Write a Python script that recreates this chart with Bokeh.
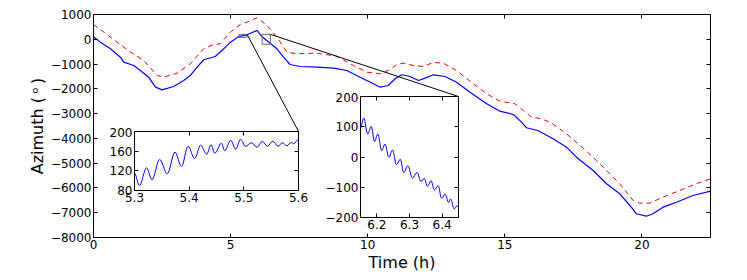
from bokeh.plotting import figure
from bokeh.layouts import column
from bokeh.models import Range1d, LinearAxis, FixedTicker, CustomJSTickFormatter
from bokeh.embed import file_html
from bokeh.resources import INLINE

FONT = "DejaVu Sans"

# ---------------- data ----------------
t_meas = [0.0, 0.25, 0.62, 0.98, 1.1, 1.47, 1.71, 2.01, 2.26, 2.5, 2.92, 3.29, 3.53, 3.78,
          4.02, 4.44, 4.75, 4.99, 5.3, 5.6, 5.96, 6.15, 6.45, 6.69, 6.93, 7.17, 7.54, 8.15,
          8.75, 9.24, 9.72, 10.21, 10.45, 10.75, 11.0, 11.24, 11.54, 11.85, 12.09, 12.39,
          12.82, 13.24, 13.73, 14.34, 14.82, 15.31, 15.61, 15.79, 16.2, 16.76, 17.25, 17.61,
          18.22, 18.71, 19.19, 19.56, 19.8, 20.16, 20.4, 20.77, 21.26, 21.86, 22.5]
az_meas = [100, -116, -385, -722, -924, -1057, -1259, -1530, -1933, -2040, -1905, -1663,
           -1461, -1126, -827, -694, -385, -116, 110, 180, 355, 100, -170, -385, -722, -1017,
           -1098, -1126, -1166, -1259, -1530, -1796, -1933, -1865, -1594, -1433, -1501, -1663,
           -1570, -1433, -1501, -1731, -2135, -2603, -2902, -3035, -3346, -3572, -3681, -4016,
           -4355, -4758, -5295, -5832, -6236, -6708, -7043, -7140, -7043, -6776, -6575, -6304,
           -6130]

t_ref = [0.0, 0.38, 0.86, 1.35, 1.83, 2.32, 2.56, 3.05, 3.53, 4.02, 4.38, 4.62, 4.99, 5.35,
         5.66, 5.96, 6.33, 6.69, 7.05, 7.42, 8.15, 8.87, 9.48, 9.97, 10.45, 10.82, 11.06, 11.3,
         11.66, 12.03, 12.39, 12.76, 13.24, 13.85, 14.34, 14.82, 15.37, 15.67, 15.98, 16.34,
         16.7, 17.25, 17.74, 18.22, 18.71, 19.19, 19.68, 19.92, 20.28, 20.77, 21.38, 21.98,
         22.5]
az_ref = [597, 287, -116, -520, -856, -1461, -1530, -1368, -990, -385, -210, -182, 287, 597,
          718, 868, 557, 85, -520, -585, -561, -682, -1057, -1328, -1392, -1220, -1017, -965,
          -1057, -1098, -936, -965, -1259, -1796, -2200, -2498, -2603, -2874, -3144, -3209,
          -3380, -3814, -4286, -4758, -5295, -5832, -6506, -6614, -6614, -6372, -6103, -5832,
          -5630]

# zoomed views: successive peaks and troughs of the oscillation
t_zoom1 = [5.3, 5.309, 5.322, 5.332, 5.346, 5.36, 5.374, 5.386, 5.398, 5.41, 5.421, 5.432,
           5.44, 5.447, 5.459, 5.465, 5.476, 5.485, 5.494, 5.503, 5.514, 5.524, 5.534, 5.543,
           5.553, 5.563, 5.57, 5.579, 5.587, 5.591, 5.6]
az_zoom1 = [115, 90, 126, 102, 143, 114, 158, 129, 170, 145, 172, 154, 173, 156, 176, 161,
            182, 164, 184, 170, 177, 168, 180, 170, 180, 170, 177, 171, 178, 175, 184]

t_zoom2 = [6.15, 6.16, 6.172, 6.183, 6.193, 6.203, 6.215, 6.225, 6.237, 6.248, 6.26, 6.272,
           6.282, 6.295, 6.309, 6.323, 6.335, 6.345, 6.355, 6.366, 6.376, 6.388, 6.398, 6.409,
           6.42, 6.426, 6.437, 6.445, 6.45]
az_zoom2 = [96, 129, 76, 101, 51, 76, 21, 43, -1, 23, -25, -7, -51, -29, -70, -51, -81, -70,
            -97, -78, -109, -95, -136, -123, -150, -139, -172, -161, -167]

main_xticks = [0, 5, 10, 15, 20]
main_yticks = [-8000, -7000, -6000, -5000, -4000, -3000, -2000, -1000, 0, 1000]
zoom1_xticks = [5.3, 5.4, 5.5, 5.6]
zoom1_yticks = [80, 120, 160, 200]
zoom2_xticks = [6.2, 6.3, 6.4]
zoom2_yticks = [-200, -100, 0, 100, 200]

MAIN_X = (0, 22.5)
MAIN_Y = (-8000, 1000)
ZOOM1_X = (5.3, 5.6)
ZOOM1_Y = (80, 200)
ZOOM2_X = (6.15, 6.45)
ZOOM2_Y = (-200, 200)

# ---------------- layout (pixels, page coordinates) ----------------
BL, BR = 93, 20          # left/right borders shared by all figures (column aligns them)
M_TOP, M_W, M_H, M_BOTTOM = 14, 617, 223, 40
I1_LEFT, I1_TOP, I1_W, I1_H = 134, 131, 164, 59
I2_LEFT, I2_TOP, I2_W, I2_H = 360, 96, 98, 121
I1_BT, I1_BB = 4, 20
I2_BT, I2_BB = 4, 20


def fmt(code):
    return CustomJSTickFormatter(code=code)


MINUS = "return tick.toFixed(%d).replace('-', '\\u2212');"
BLANK = "return '';"


def style(fig, xticks, yticks, xdec, ydec, tick_size, label_size):
    fig.grid.visible = False
    fig.outline_line_color = "black"
    fig.outline_line_width = 1
    fig.outline_line_alpha = 1
    fig.add_layout(LinearAxis(), "right")
    fig.add_layout(LinearAxis(), "above")
    for ax in fig.below + fig.above:
        ax.ticker = FixedTicker(ticks=xticks)
    for ax in fig.left + fig.right:
        ax.ticker = FixedTicker(ticks=yticks)
    for ax in fig.below + fig.above + fig.left + fig.right:
        ax.axis_line_color = None
        ax.major_tick_in = 4
        ax.major_tick_out = 0
        ax.major_tick_line_color = "black"
        ax.minor_tick_line_color = None
        ax.major_label_text_font = FONT
        ax.major_label_text_font_size = tick_size
        ax.major_label_text_color = "black"
        ax.major_label_standoff = 2
        ax.axis_label_text_font = FONT
        ax.axis_label_text_font_size = label_size
        ax.axis_label_text_font_style = "normal"
        ax.axis_label_text_color = "black"
        ax.axis_label_standoff = 1
    fig.below[0].formatter = fmt(MINUS % xdec)
    fig.left[0].formatter = fmt(MINUS % ydec)
    fig.right[0].formatter = fmt(BLANK)
    fig.above[0].formatter = fmt(BLANK)
    fig.right[0].major_label_standoff = 0
    fig.above[0].major_label_standoff = 0


def smooth_oscillation(fig, t, a, **kw):
    # cubic segments with flat tangents at each read peak / trough
    x0, y0, x1, y1 = t[:-1], a[:-1], t[1:], a[1:]
    k = 0.36
    cx0 = [xa + k * (xb - xa) for xa, xb in zip(x0, x1)]
    cx1 = [xb - k * (xb - xa) for xa, xb in zip(x0, x1)]
    fig.bezier(x0=x0, y0=y0, x1=x1, y1=y1, cx0=cx0, cy0=y0, cx1=cx1, cy1=y1, **kw)


# ---------------- main figure ----------------
p = figure(frame_width=M_W, frame_height=M_H, output_backend="svg", toolbar_location=None,
           x_range=Range1d(*MAIN_X), y_range=Range1d(*MAIN_Y),
           min_border_left=BL, min_border_top=M_TOP, min_border_right=BR,
           min_border_bottom=M_BOTTOM, border_fill_color="white", background_fill_color="white")
style(p, main_xticks, main_yticks, 0, 0, "12px", "16px")
p.below[0].axis_label = "Time (h)"
p.left[0].axis_label = "Azimuth (\u2009\u1d52\u2009)"

p.line(t_ref, az_ref, line_color="#ff0000", line_width=1, line_dash="5 4")
p.line(t_meas, az_meas, line_color="#0000ff", line_width=1.2)

# boxes marking the zoomed regions
p.quad(left=[ZOOM1_X[0], ZOOM2_X[0]], right=[ZOOM1_X[1], ZOOM2_X[1]],
       bottom=[ZOOM1_Y[0], ZOOM2_Y[0]], top=[ZOOM1_Y[1], ZOOM2_Y[1]],
       fill_color=None, line_color="#666666", line_width=1)


def px_to_data(xp, yp):
    t = MAIN_X[0] + (xp - BL) / M_W * (MAIN_X[1] - MAIN_X[0])
    v = MAIN_Y[1] - (yp - M_TOP) / M_H * (MAIN_Y[1] - MAIN_Y[0])
    return t, v


c1 = px_to_data(I1_LEFT + I1_W, I1_TOP)
c2 = px_to_data(I2_LEFT + I2_W, I2_TOP)
p.segment(x0=[ZOOM1_X[1], ZOOM2_X[1]], y0=[ZOOM1_Y[1], ZOOM2_Y[1]],
          x1=[c1[0], c2[0]], y1=[c1[1], c2[1]], line_color="black", line_width=1)


# ---------------- insets ----------------
def inset(xr, yr, w, h, bt, bb):
    return figure(frame_width=w, frame_height=h, output_backend="svg", toolbar_location=None,
                  x_range=Range1d(*xr), y_range=Range1d(*yr),
                  min_border_left=BL, min_border_right=BR, min_border_top=bt,
                  min_border_bottom=bb, border_fill_color=None, background_fill_color="white")


f1 = inset(ZOOM1_X, ZOOM1_Y, I1_W, I1_H, I1_BT, I1_BB)
style(f1, zoom1_xticks, zoom1_yticks, 1, 0, "12px", "12px")
smooth_oscillation(f1, t_zoom1, az_zoom1, line_color="#0000ff", line_width=1)

f2 = inset(ZOOM2_X, ZOOM2_Y, I2_W, I2_H, I2_BT, I2_BB)
style(f2, zoom2_xticks, zoom2_yticks, 1, 0, "12px", "12px")
smooth_oscillation(f2, t_zoom2, az_zoom2, line_color="#0000ff", line_width=1)

MAIN_TOTAL_H = M_TOP + M_H + M_BOTTOM
f1_top = I1_TOP - I1_BT
f1_h = I1_BT + I1_H + I1_BB
f2_top = I2_TOP - I2_BT
f2_h = I2_BT + I2_H + I2_BB
f1.margin = (f1_top - MAIN_TOTAL_H, 0, 0, I1_LEFT - BL)
f2.margin = (f2_top - (f1_top + f1_h), 0, MAIN_TOTAL_H - (f2_top + f2_h), I2_LEFT - BL)

layout = column(p, f1, f2, spacing=0)
open("out.html", "w").write(file_html(layout, INLINE))
